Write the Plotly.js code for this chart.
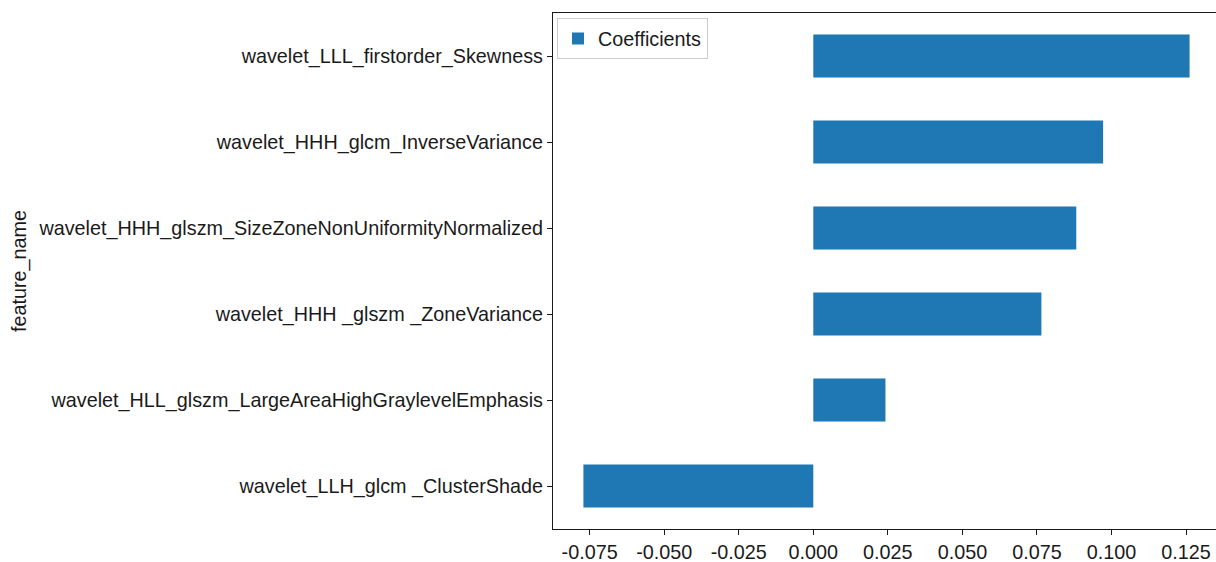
<!DOCTYPE html>
<html>
<head>
<meta charset="utf-8">
<script src="https://cdn.plot.ly/plotly-3.0.1.min.js"></script>
<style>
html, body { margin: 0; padding: 0; overflow: hidden; background: #fff; }
#chart { width: 1222px; height: 562px; }
</style>
</head>
<body>
<div id="chart"></div>
<script>
// bottom-to-top order, as drawn
const features = [
  "wavelet_LLH_glcm _ClusterShade",
  "wavelet_HLL_glszm_LargeAreaHighGraylevelEmphasis",
  "wavelet_HHH _glszm _ZoneVariance",
  "wavelet_HHH_glszm_SizeZoneNonUniformityNormalized",
  "wavelet_HHH_glcm_InverseVariance",
  "wavelet_LLL_firstorder_Skewness"
];
const coefficients = [-0.0771, 0.0242, 0.0765, 0.0882, 0.0972, 0.1262];
const tickValues = [-0.075, -0.05, -0.025, 0, 0.025, 0.05, 0.075, 0.1, 0.125];
const tickLabels = ["-0.075", "-0.050", "-0.025", "0.000", "0.025", "0.050", "0.075", "0.100", "0.125"];

const FONT = "Liberation Sans, Arial, Helvetica, sans-serif";
const FS = 19.8;

const trace = {
  type: "bar",
  orientation: "h",
  x: coefficients,
  y: features,
  name: "Coefficients",
  width: 0.5,
  marker: { color: "#1f77b4", line: { width: 0 } }
};

const layout = {
  width: 1222,
  height: 562,
  margin: { l: 553, r: 2, t: 13, b: 33 },
  paper_bgcolor: "#ffffff",
  plot_bgcolor: "#ffffff",
  font: { family: FONT, size: FS, color: "#1a1a1a" },
  showlegend: true,
  legend: {
    x: 0.006, y: 0.99, xanchor: "left", yanchor: "top",
    bgcolor: "rgba(255,255,255,0.8)",
    bordercolor: "#cccccc", borderwidth: 1,
    itemwidth: 30,
    font: { family: FONT, size: FS, color: "#1a1a1a" },
    tracegroupgap: 0
  },
  xaxis: {
    range: [-0.0873, 0.1364],
    tickvals: tickValues,
    ticktext: tickLabels,
    ticks: "outside", ticklen: 5, tickwidth: 1.2, tickcolor: "#1a1a1a",
    showline: true, linecolor: "#1a1a1a", linewidth: 1.2, mirror: true,
    showgrid: false, zeroline: false,
    tickfont: { family: FONT, size: FS, color: "#1a1a1a" }
  },
  yaxis: {
    type: "category",
    range: [-0.5, 5.5],
    ticks: "outside", ticklen: 5, tickwidth: 1.2, tickcolor: "#1a1a1a",
    showline: true, linecolor: "#1a1a1a", linewidth: 1.2, mirror: true,
    showgrid: false, zeroline: false,
    tickfont: { family: FONT, size: FS, color: "#1a1a1a" },
    title: { text: "feature_name", font: { family: FONT, size: FS, color: "#1a1a1a" }, standoff: 6 }
  }
};

Plotly.newPlot("chart", [trace], layout, { displayModeBar: false, responsive: false });
</script>
</body>
</html>
